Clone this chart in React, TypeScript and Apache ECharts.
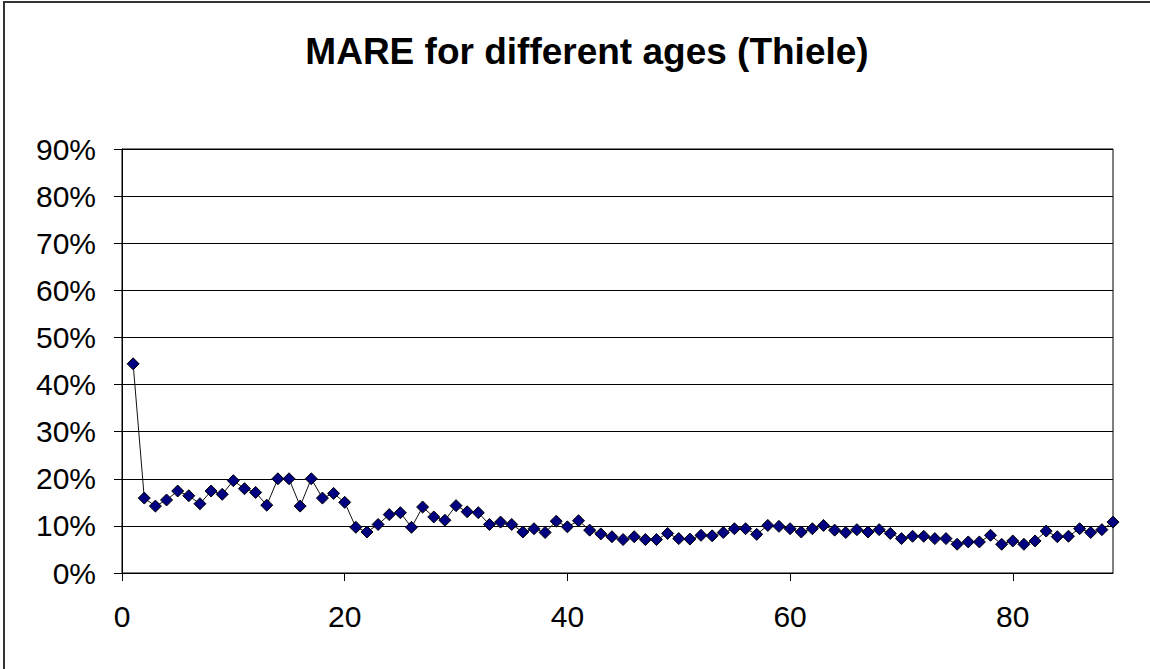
import React, { useEffect, useRef } from "react";
import * as echarts from "echarts";

const TITLE = "MARE for different ages (Thiele)";
const ages: number[] = [
  1, 2, 3, 4, 5, 6, 7, 8, 9, 10, 11, 12, 13, 14, 15, 16, 17, 18, 19, 20,
  21, 22, 23, 24, 25, 26, 27, 28, 29, 30, 31, 32, 33, 34, 35, 36, 37, 38, 39, 40,
  41, 42, 43, 44, 45, 46, 47, 48, 49, 50, 51, 52, 53, 54, 55, 56, 57, 58, 59, 60,
  61, 62, 63, 64, 65, 66, 67, 68, 69, 70, 71, 72, 73, 74, 75, 76, 77, 78, 79, 80,
  81, 82, 83, 84, 85, 86, 87, 88, 89,
];
// MARE in percent
const mare: number[] = [
  44.4, 15.9, 14.2, 15.5, 17.4, 16.4, 14.7, 17.4, 16.7, 19.6,
  17.9, 17.1, 14.4, 20.0, 20.0, 14.2, 20.0, 15.9, 16.9, 15.0,
  9.7, 8.7, 10.3, 12.4, 12.8, 9.7, 14.0, 11.9, 11.2, 14.3,
  13.0, 12.8, 10.3, 10.8, 10.3, 8.7, 9.4, 8.6, 11.0, 9.8,
  11.1, 9.1, 8.3, 7.7, 7.1, 7.7, 7.1, 7.1, 8.4, 7.3,
  7.2, 8.0, 7.9, 8.6, 9.4, 9.4, 8.2, 10.1, 9.9, 9.4,
  8.7, 9.4, 10.1, 9.1, 8.6, 9.2, 8.7, 9.2, 8.4, 7.3,
  7.8, 7.8, 7.3, 7.3, 6.1, 6.6, 6.6, 8.0, 6.1, 6.8,
  6.1, 6.8, 8.9, 7.7, 7.8, 9.4, 8.6, 9.2, 10.8,
];
const xTicks: number[] = [0, 20, 40, 60, 80];

const FONT = "'Liberation Sans', Arial, sans-serif";

export default function App() {
  const ref = useRef<HTMLDivElement>(null);
  useEffect(() => {
    document.body.style.margin = "0";
    const chart = echarts.init(ref.current!, null, { renderer: "svg" });
    chart.setOption({
      animation: false,
      backgroundColor: "#ffffff",
      title: {
        text: TITLE,
        left: 582,
        textAlign: "center",
        top: 28,
        textStyle: { fontFamily: FONT, fontSize: 37, fontWeight: "bold", color: "#000" },
      },
      graphic: [
        { type: "line", shape: { x1: 3, y1: 2, x2: 1150, y2: 2 }, style: { stroke: "#333", lineWidth: 2 } },
        { type: "line", shape: { x1: 4, y1: 2, x2: 4, y2: 669 }, style: { stroke: "#333", lineWidth: 2 } },
      ],
      grid: {
        left: 122,
        top: 149,
        width: 991,
        height: 424,
        show: true,
        borderColor: "#000",
        borderWidth: 1,
        backgroundColor: "transparent",
      },
      xAxis: {
        type: "value",
        min: 0,
        max: 89,
        interval: 20,
        splitLine: { show: false },
        axisLine: { show: true, lineStyle: { color: "#000", width: 1 } },
        axisTick: { show: true, length: 8, lineStyle: { color: "#000" }, customValues: xTicks },
        axisLabel: {
          customValues: xTicks,
          margin: 28,
          fontFamily: FONT,
          fontSize: 30,
          color: "#000",
        },
      },
      yAxis: {
        type: "value",
        min: 0,
        max: 90,
        interval: 10,
        splitLine: { show: true, lineStyle: { color: "#000", width: 1 } },
        axisLine: { show: true, lineStyle: { color: "#000", width: 1 } },
        axisTick: { show: true, length: 8, lineStyle: { color: "#000" } },
        axisLabel: {
          formatter: "{value}%",
          margin: 26,
          fontFamily: FONT,
          fontSize: 30,
          color: "#000",
        },
      },
      series: [
        {
          type: "line",
          data: ages.map((a, i) => [a, mare[i]]),
          symbol: "diamond",
          symbolSize: 12,
          showAllSymbol: true,
          lineStyle: { color: "#111", width: 1 },
          itemStyle: { color: "#000080", borderColor: "#000", borderWidth: 1 },
          clip: false,
        },
      ],
    });
    return () => chart.dispose();
  }, []);
  return <div ref={ref} style={{ width: 1150, height: 669 }} />;
}
